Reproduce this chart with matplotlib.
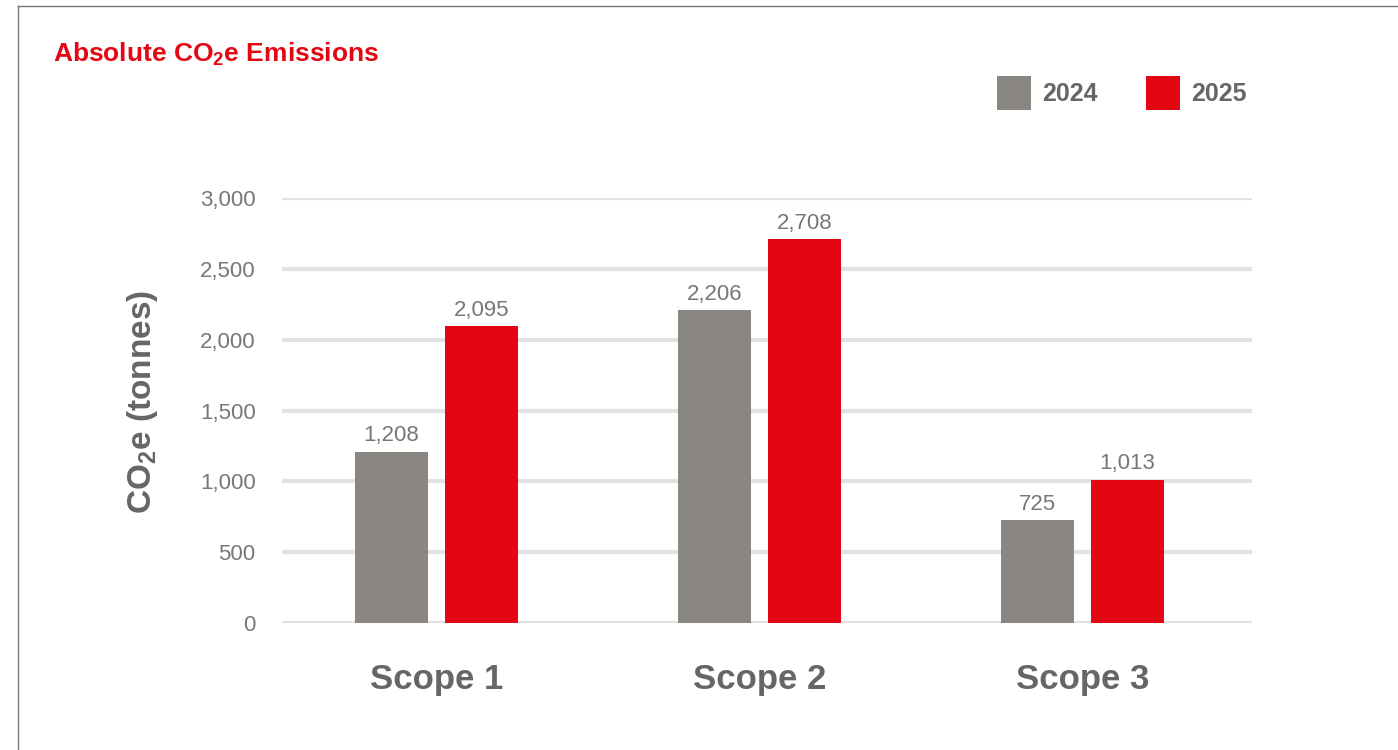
"""
Absolute CO2e emissions, 2024 vs 2025 by scope.
"""
import numpy as np
import matplotlib
matplotlib.use("Agg")
import matplotlib.pyplot as plt
from matplotlib.lines import Line2D
from matplotlib.patches import Patch
import matplotlib.ticker as ticker

SCOPES   = ["Scope 1", "Scope 2", "Scope 3"]
YEARS    = ["2024", "2025"]
VAL_2024 = [1208, 2206, 725]
VAL_2025 = [2095, 2708, 1013]
Y_TICKS  = [0, 500, 1000, 1500, 2000, 2500, 3000]

GREY  = "#8a8682"
RED   = "#e30613"
TEXT  = "#666666"
LIGHT = "#777777"
GRID  = "#e2e2e2"

plt.rcParams["font.family"] = ["Liberation Sans", "DejaVu Sans"]
plt.rcParams["mathtext.fontset"] = "custom"
plt.rcParams["mathtext.rm"] = "Liberation Sans"
plt.rcParams["mathtext.bf"] = "Liberation Sans:bold"

fig = plt.figure(figsize=(13.98, 7.5), dpi=100)
fig.patch.set_facecolor("white")
ax = fig.add_axes([0.2017, 0.1693, 0.6939, 0.5667])

x = np.arange(len(SCOPES))
w = 0.226
off = 0.139
b1 = ax.bar(x - off, VAL_2024, w, color=GREY, label=YEARS[0], zorder=3)
b2 = ax.bar(x + off, VAL_2025, w, color=RED, label=YEARS[1], zorder=3)

for bars in (b1, b2):
    ax.bar_label(bars, labels=[f"{v:,.0f}" for v in bars.datavalues],
                 padding=4, fontsize=16, color=LIGHT)

ax.set_xlim(-0.478, 2.525)
ax.set_ylim(0, 3000)
ax.set_yticks(Y_TICKS)
ax.yaxis.set_major_formatter(ticker.FuncFormatter(lambda v, _: f"{int(v):,}"))
ax.set_xticks(x)
ax.set_xticklabels(SCOPES, fontsize=25, fontweight="bold", color=TEXT)

ax.yaxis.grid(True, color=GRID, linewidth=3)
ax.xaxis.grid(False)
ax.set_axisbelow(True)
for s in ax.spines.values():
    s.set_visible(False)
ax.tick_params(axis="y", length=0, pad=19, labelsize=16, labelcolor=LIGHT)
ax.tick_params(axis="x", length=0, pad=29)

ax.set_ylabel(r"CO$_\mathbf{2}$e (tonnes)", fontsize=24, fontweight="bold",
              color=TEXT, va="center")
ax.yaxis.set_label_coords(-0.1433, 0.52)

fig.text(53 / 1398, 1 - 61 / 750, r"Absolute CO$_\mathbf{2}$e Emissions",
         fontsize=19, fontweight="bold", color=RED, va="baseline", ha="left")

handles = [Patch(facecolor=GREY), Patch(facecolor=RED)]
fig.legend(handles, YEARS, loc="center left", bbox_to_anchor=(997 / 1398, 1 - 93 / 750),
           ncol=2, frameon=False, borderpad=0, borderaxespad=0,
           handlelength=1.36, handleheight=1.7, handletextpad=0.44,
           columnspacing=1.95, prop={"weight": "bold", "size": 18}, labelcolor=TEXT)

# page frame (left and top edges)
fig.add_artist(Line2D([18 / 1398, 18 / 1398], [0, 1 - 6 / 750], color="#777777", lw=1))
fig.add_artist(Line2D([18 / 1398, 1], [1 - 6 / 750, 1 - 6 / 750], color="#777777", lw=1))

fig.savefig("out.png", dpi=100, facecolor="white")
